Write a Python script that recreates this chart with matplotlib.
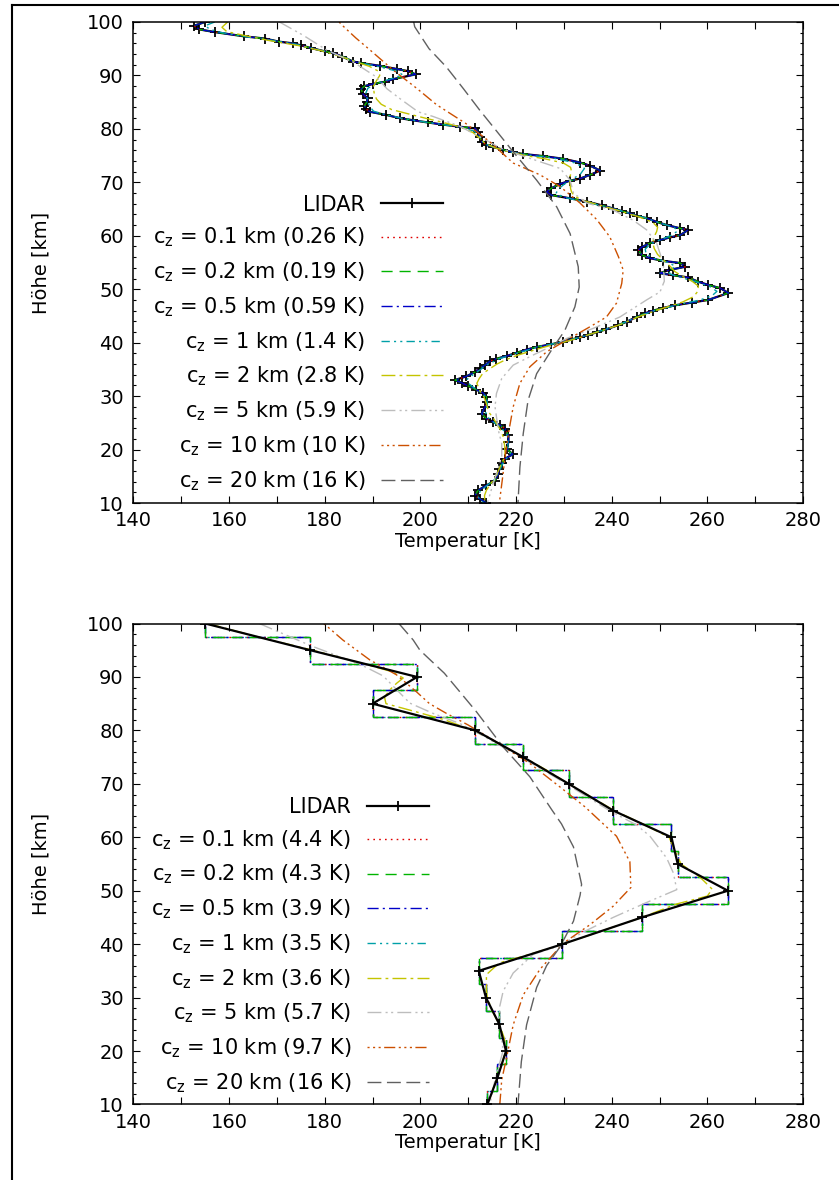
import matplotlib.pyplot as plt
from matplotlib.lines import Line2D
from matplotlib.ticker import MultipleLocator

plt.rcParams['font.family'] = ['DejaVu Sans']
plt.rcParams['mathtext.fontset'] = 'dejavusans'
plt.rcParams['mathtext.default'] = 'regular'
plt.rcParams['font.size'] = 14

# correlation lengths and rms deviations shown in the keys
cz = [0.1, 0.2, 0.5, 1, 2, 5, 10, 20]
rms_top = [0.26, 0.19, 0.59, 1.4, 2.8, 5.9, 10, 16]
rms_bot = [4.4, 4.3, 3.9, 3.5, 3.6, 5.7, 9.7, 16]

# ---- upper panel: LIDAR profile at full resolution
lidar_h = [100.0, 99.3, 98.6, 98.1, 97.3, 96.9, 96.3, 96.0, 95.6, 95.1, 94.5, 94.2,
           93.5, 92.6, 92.3, 91.8, 91.2, 90.8, 90.2, 89.3, 88.8, 88.4, 88.0, 87.4,
           86.5, 85.7, 85.0, 84.3, 83.7, 83.2, 82.6, 82.0, 81.6, 81.2, 80.8, 80.4,
           80.1, 79.5, 78.5, 77.6, 77.0, 76.6, 76.1, 75.6, 75.3, 74.9, 74.4, 73.7,
           73.1, 72.2, 71.4, 70.7, 70.3, 69.7, 68.9, 68.2, 67.6, 67.0, 66.4, 65.7,
           65.1, 64.6, 64.2, 63.7, 63.3, 62.6, 62.0, 61.4, 61.1, 60.1, 59.7, 59.2,
           58.6, 57.9, 57.3, 56.4, 55.8, 55.3, 54.9, 54.2, 53.6, 53.0, 52.6, 52.2,
           51.4, 50.8, 50.2, 49.3, 48.0, 47.5, 47.0, 46.5, 46.0, 45.5, 44.8, 43.9,
           43.3, 42.5, 42.0, 41.4, 41.0, 40.6, 40.2, 39.7, 39.2, 38.7, 38.1, 37.5,
           37.0, 36.5, 35.8, 35.2, 34.5, 33.7, 33.0, 32.5, 31.9, 31.2, 30.6, 29.9,
           28.9, 28.0, 26.7, 25.8, 25.2, 24.6, 23.9, 22.7, 21.4, 20.2, 19.1, 18.3,
           17.4, 16.4, 15.5, 14.2, 13.3, 12.4, 11.4, 10.8, 10.0]
lidar_T = [155.0, 152.7, 153.8, 157.0, 163.2, 167.4, 170.5, 173.3, 175.1, 177.2, 180.0, 181.7,
           183.7, 185.9, 187.6, 191.5, 195.0, 197.4, 199.0, 194.3, 192.5, 190.1, 188.3, 187.6,
           188.0, 189.0, 188.8, 188.3, 188.7, 189.4, 192.9, 195.7, 198.5, 201.5, 204.7, 208.2,
           211.4, 212.0, 212.4, 212.8, 213.8, 215.2, 217.3, 219.4, 221.5, 225.7, 229.9, 233.4,
           235.5, 237.6, 235.5, 233.4, 231.3, 229.2, 227.4, 226.4, 227.4, 231.3, 234.8, 237.9,
           240.3, 242.1, 243.8, 245.2, 247.3, 249.4, 251.5, 254.3, 256.0, 254.3, 252.2, 250.1,
           248.0, 246.3, 245.6, 246.3, 248.0, 250.8, 254.3, 255.4, 252.0, 250.1, 252.9, 256.0,
           258.1, 260.2, 262.7, 264.4, 260.2, 256.8, 253.3, 250.8, 248.7, 247.0, 245.2, 243.1,
           241.4, 238.9, 236.9, 235.1, 233.4, 231.6, 229.9, 227.4, 224.3, 222.2, 220.1, 218.0,
           215.9, 214.5, 213.5, 212.4, 211.4, 209.6, 207.2, 208.6, 210.0, 211.7, 213.1, 213.8,
           213.9, 213.5, 212.8, 213.8, 215.2, 216.6, 217.7, 218.4, 218.4, 218.0, 219.3, 217.7,
           217.0, 216.5, 216.3, 215.6, 213.8, 212.1, 211.4, 212.4, 213.8]

top1_h = [100, 99.3, 98.6, 98.0, 97.3, 96.0, 94.5, 93.5, 92.4, 91.6, 90.8, 90.1, 89.4, 88.6,
          87.6, 86.5, 85.3, 84.3, 83.3, 82.6, 82.0, 81.2, 80.4, 79.6, 78.5, 77.3, 76.4, 75.6,
          75.1, 74.5, 73.6, 72.6, 71.6, 70.6, 69.6, 68.7, 68.0, 67.2, 66.4, 65.4, 64.4, 63.4,
          62.4, 61.6, 60.9, 60.1, 59.2, 58.4, 57.5, 56.6, 55.8, 55.0, 54.3, 53.6, 52.9, 52.2,
          51.4, 50.5, 49.6, 48.8, 48.0, 47.0, 46.0, 44.8, 43.3, 42.0, 41.0, 40.2, 39.2, 38.1,
          37.0, 36.0, 35.0, 34.0, 33.2, 32.4, 31.5, 30.6, 29.6, 28.5, 27.3, 26.3, 25.3, 24.3,
          23.0, 21.6, 20.4, 19.3, 18.3, 17.2, 15.8, 14.4, 13.2, 12.2, 11.2, 10.0]
top1_T = [157.0, 155.0, 156.0, 158.5, 163.0, 173.0, 180.0, 183.7, 187.0, 191.5, 195.0, 196.3,
          194.0, 191.0, 189.0, 188.5, 189.0, 189.3, 190.2, 193.0, 196.0, 201.5, 207.8, 211.2,
          212.4, 213.3, 215.8, 219.3, 222.5, 228.0, 232.5, 234.3, 233.5, 231.8, 230.0, 228.8,
          228.4, 230.0, 234.0, 239.0, 243.0, 246.8, 250.0, 253.0, 253.8, 252.5, 250.0, 248.0,
          247.0, 247.2, 248.8, 251.8, 253.3, 252.3, 252.0, 254.5, 257.5, 260.5, 262.0, 261.0,
          258.5, 253.5, 249.0, 245.2, 241.4, 236.9, 233.4, 229.9, 224.6, 220.5, 216.5, 214.2,
          212.6, 211.0, 209.8, 210.0, 211.3, 212.8, 213.9, 214.0, 213.6, 213.8, 215.0, 216.6,
          218.0, 218.3, 218.3, 218.8, 218.0, 217.1, 216.4, 215.5, 213.8, 212.5, 212.0, 213.2]

top2_h = [100, 99.0, 98.2, 97.5, 96.5, 95.5, 94.5, 93.5, 92.6, 91.7, 90.8, 90.0, 89.0, 88.0,
          86.8, 85.6, 84.6, 83.6, 82.8, 82.0, 81.2, 80.3, 79.3, 78.3, 77.3, 76.4, 75.6, 75.0,
          74.4, 73.6, 72.8, 72.0, 70.9, 69.8, 68.8, 68.2, 67.4, 66.6, 65.7, 64.6, 63.5, 62.5,
          61.6, 60.8, 59.7, 58.6, 57.6, 56.5, 55.3, 54.2, 53.3, 52.4, 51.5, 50.6, 49.6, 48.6,
          47.6, 46.8, 45.8, 44.8, 43.3, 42.0, 41.0, 40.1, 39.2, 38.4, 37.7, 36.8, 36.0, 35.0,
          34.2, 33.3, 32.4, 31.1, 29.8, 28.6, 27.0, 25.8, 24.9, 23.6, 22.4, 20.8, 19.3, 18.0,
          16.7, 15.4, 14.2, 13.2, 12.4, 11.4, 10.0]
top2_T = [159.7, 158.5, 159.5, 163.0, 168.5, 175.0, 179.8, 183.5, 186.3, 189.3, 191.2, 191.5,
          190.8, 190.2, 190.3, 190.8, 191.8, 194.0, 197.5, 201.0, 204.8, 208.5, 211.0, 212.3,
          213.5, 215.8, 219.0, 222.0, 226.0, 229.9, 231.4, 231.6, 231.2, 231.3, 231.4, 231.6,
          232.2, 234.0, 237.6, 241.8, 245.8, 248.6, 249.6, 249.4, 248.8, 248.6, 248.9, 249.6,
          251.0, 252.3, 253.2, 254.8, 256.8, 258.1, 258.0, 257.1, 254.8, 252.0, 248.5, 245.5,
          241.5, 237.0, 233.5, 230.0, 226.0, 223.0, 220.5, 217.8, 216.0, 214.3, 213.0, 212.3,
          211.8, 212.4, 213.3, 213.8, 214.3, 215.3, 215.9, 216.8, 217.3, 217.6, 217.7, 217.3,
          216.6, 216.0, 215.2, 214.4, 213.8, 213.4, 213.5]

top5_h = [100, 97.5, 94.8, 92.3, 89.7, 87.5, 85.6, 83.2, 82.3, 80.5, 78.0, 76.5, 74.9, 72.6,
          70.4, 68.0, 66.1, 64.8, 62.9, 61.1, 58.6, 54.8, 51.5, 49.5, 48.0, 44.8, 42.7, 40.8,
          39.5, 37.7, 35.8, 33.3, 30.5, 28.0, 23.6, 21.1, 18.6, 13.6, 10.0]
top5_T = [170.5, 175.5, 180.3, 186.3, 190.8, 193.0, 195.8, 199.5, 202.7, 208.2, 213.5, 216.5,
          221.5, 229.2, 231.3, 232.0, 234.8, 240.3, 244.5, 247.3, 249.4, 250.8, 251.0, 250.1,
          247.3, 241.7, 236.2, 230.6, 227.8, 223.6, 219.4, 217.0, 215.9, 215.6, 216.3, 217.0,
          217.0, 215.2, 214.0]

top10_h = [100, 99.5, 97.0, 94.8, 91.0, 87.6, 84.5, 81.0, 77.6, 73.6, 71.4, 69.2, 66.1, 63.0,
           59.8, 56.1, 53.6, 51.1, 47.4, 44.8, 43.0, 40.5, 38.3, 35.5, 32.4, 28.0, 23.0, 18.6,
           14.9, 10.0]
top10_T = [183.0, 183.5, 186.5, 189.4, 194.3, 199.2, 203.4, 209.5, 214.5, 219.4, 225.0, 229.2,
           233.4, 236.9, 239.6, 241.4, 242.4, 242.1, 241.0, 238.9, 235.5, 230.6, 226.4, 222.9,
           220.8, 219.4, 218.4, 217.7, 217.2, 216.5]

top20_h = [100, 99.1, 95.0, 91.6, 87.5, 83.5, 79.5, 75.7, 70.4, 65.4, 60.4, 54.2, 50.4, 46.7,
           42.3, 38.6, 34.2, 29.2, 23.0, 16.7, 10.0]
top20_T = [198.6, 198.8, 201.8, 205.4, 209.0, 212.4, 216.0, 219.4, 224.3, 228.5, 231.3, 233.0,
           233.2, 232.3, 230.2, 227.4, 224.3, 222.5, 221.5, 220.8, 220.4]

# ---- lower panel: LIDAR averaged onto 5 km layers
bot_h = [10, 15, 20, 25, 30, 35, 40, 45, 50, 55, 60, 65, 70, 75, 80, 85, 90, 95, 100]
bot_T = [214.0, 216.1, 217.9, 216.5, 213.7, 212.2, 229.7, 246.3, 264.3, 253.8, 252.5, 240.3,
         231.0, 221.5, 211.5, 190.0, 199.3, 177.0, 155.0]
# layer boundaries of the 5 km bins
bot_edges = [10, 12.5, 17.5, 22.5, 27.5, 32.5, 37.5, 42.5, 47.5, 52.5, 57.5, 62.5, 67.5,
             72.5, 77.5, 82.5, 87.5, 92.5, 97.5, 100]

bot2_h = [100, 97.5, 95.0, 92.5, 91.0, 89.8, 88.8, 87.5, 86.2, 85.0, 83.5, 82.0, 80.0, 77.5,
          75.0, 72.5, 70.0, 67.5, 65.0, 62.5, 60.0, 57.5, 55.0, 52.5, 50.3, 49.0, 47.5, 45.0,
          42.5, 40.0, 38.0, 36.5, 34.3, 31.2, 30.0, 27.5, 25.0, 22.5, 20.0, 17.5, 15.0, 12.5, 10.0]
bot2_T = [155.5, 166.0, 177.5, 188.0, 194.0, 196.4, 195.0, 193.5, 192.5, 192.8, 199.0, 205.0,
          211.0, 216.5, 221.5, 226.5, 231.0, 235.8, 240.5, 246.5, 252.0, 253.2, 254.5, 258.5,
          261.0, 260.0, 253.5, 246.3, 238.0, 229.8, 222.5, 216.5, 213.8, 213.8, 214.0, 215.0,
          216.5, 217.5, 217.8, 217.0, 216.1, 215.0, 214.2]

bot5_h = [100, 95.8, 92.4, 90.2, 87.0, 85.1, 83.2, 81.3, 79.7, 77.5, 75.0, 72.5, 70.0, 67.5,
          65.0, 62.3, 60.2, 56.1, 53.3, 50.2, 47.8, 45.0, 42.6, 39.5, 38.1, 34.6, 31.2, 28.4,
          24.9, 20.1, 14.6, 10.0]
bot5_T = [166.3, 177.2, 187.3, 192.2, 195.7, 197.8, 202.6, 208.2, 211.7, 216.0, 221.0, 225.8,
          230.5, 235.0, 239.5, 245.2, 248.0, 251.5, 252.9, 253.6, 247.3, 240.3, 234.8, 228.5,
          223.6, 219.4, 217.3, 216.6, 216.6, 217.3, 215.6, 214.5]

bot10_h = [100, 96.9, 93.2, 90.4, 87.2, 85.0, 83.2, 81.0, 78.2, 73.8, 69.4, 65.7, 60.2, 55.4,
           50.6, 47.1, 43.6, 40.2, 35.3, 30.5, 24.9, 18.7, 14.6, 10.0]
bot10_T = [179.8, 183.8, 189.4, 195.0, 199.2, 201.9, 205.4, 210.0, 215.2, 222.9, 229.2, 234.4,
           241.0, 243.8, 244.0, 240.3, 235.4, 229.9, 225.0, 221.5, 219.4, 218.0, 217.0, 216.6]

bot20_h = [100, 96.9, 95.0, 90.7, 83.5, 76.9, 71.3, 65.1, 62.5, 58.2, 51.2, 49.2, 44.3, 39.5,
           36.0, 31.9, 24.9, 18.0, 10.0]
bot20_T = [195.5, 198.5, 199.9, 205.0, 211.7, 217.3, 222.9, 227.5, 229.5, 232.0, 233.7, 233.4,
           232.0, 229.2, 226.4, 224.3, 222.2, 221.1, 220.4]

# line colours and dash patterns, one per correlation length
colors = ['#e00000', '#00b400', '#0000c8', '#00a0a8', '#c4c400', '#bdbdbd', '#cc5000', '#606060']
dashes = [(0, (1.2, 3.0)),
          (0, (8, 5)),
          (0, (8, 3, 1.5, 3)),
          (0, (6, 3, 1.5, 3, 1.5, 3)),
          (0, (10, 3, 2, 3)),
          (0, (10, 3, 1.5, 2.5, 1.5, 3)),
          (0, (1.5, 2.5, 1.5, 2.5, 1.5, 2.5, 8, 2.5)),
          (0, (10, 4))]


def style_axes(ax):
    ax.set_xlim(140, 280)
    ax.set_ylim(10, 100)
    ax.xaxis.set_major_locator(MultipleLocator(20))
    ax.xaxis.set_minor_locator(MultipleLocator(10))
    ax.yaxis.set_major_locator(MultipleLocator(10))
    ax.yaxis.set_minor_locator(MultipleLocator(2))
    ax.tick_params(which='both', direction='in', top=True, right=True, width=0.8)
    ax.tick_params(which='major', length=5, labelsize=14)
    ax.tick_params(axis='x', which='major', pad=6)
    ax.tick_params(axis='y', which='major', pad=7)
    ax.tick_params(axis='x', which='minor', length=5)
    ax.tick_params(axis='y', which='minor', length=2.5)
    for s in ax.spines.values():
        s.set_linewidth(1.1)
    ax.set_xlabel('Temperatur [K]', fontsize=14, labelpad=1)
    ax.set_ylabel('Höhe [km]', fontsize=14, labelpad=26)


def add_key(ax, handles, rms, x, y):
    labels = ['LIDAR'] + [f'c$_z$ = {c:g} km ({e:g} K)' for c, e in zip(cz, rms)]
    ax.legend(handles, labels, loc='upper right', bbox_to_anchor=(x, y),
              frameon=False, markerfirst=False, handlelength=3.0, handletextpad=0.75,
              labelspacing=0.535, borderpad=0, borderaxespad=0, fontsize=15)


fig = plt.figure(figsize=(8.39, 11.80), dpi=100)
ax1 = fig.add_axes([0.1591, 0.5737, 0.7980, 0.4077])
ax2 = fig.add_axes([0.1591, 0.0640, 0.7980, 0.4076])

# upper panel
h1 = [ax1.plot(lidar_T, lidar_h, color='black', lw=1.6, marker='+', ms=7, mew=1.3)[0]]
curves_top = [(lidar_T, lidar_h), (lidar_T, lidar_h), (lidar_T, lidar_h),
              (top1_T, top1_h), (top2_T, top2_h), (top5_T, top5_h),
              (top10_T, top10_h), (top20_T, top20_h)]
for (T, h), c, d in zip(curves_top, colors, dashes):
    h1.append(ax1.plot(T, h, color=c, ls=d, lw=1.0)[0])
style_axes(ax1)
add_key(ax1, h1, rms_top, 0.4623, 0.641)

# lower panel: the short correlation lengths reproduce the 5 km layers as steps
h2 = [ax2.plot(bot_T, bot_h, color='black', lw=1.6, marker='+', ms=7, mew=1.3, zorder=3)[0]]
step_order = [1.6, 1.9, 1.8, 1.5]
for c, d, z in zip(colors[:4], dashes[:4], step_order):
    h2.append(ax2.stairs(bot_T, bot_edges, orientation='horizontal', baseline=None,
                         color=c, ls=d, lw=1.0, zorder=z))
curves_bot = [(bot2_T, bot2_h), (bot5_T, bot5_h), (bot10_T, bot10_h), (bot20_T, bot20_h)]
for (T, h), c, d in zip(curves_bot, colors[4:], dashes[4:]):
    h2.append(ax2.plot(T, h, color=c, ls=d, lw=1.0)[0])
style_axes(ax2)
add_key(ax2, h2, rms_bot, 0.4414, 0.6395)

# frame lines along the top and left edge of the page
fig.add_artist(Line2D([11.5 / 839, 1], [1 - 4.5 / 1180] * 2, color='black', lw=1.5,
                      transform=fig.transFigure))
fig.add_artist(Line2D([11.5 / 839] * 2, [0, 1 - 4.5 / 1180], color='black', lw=1.5,
                      transform=fig.transFigure))

fig.savefig('out.png', dpi=100)
